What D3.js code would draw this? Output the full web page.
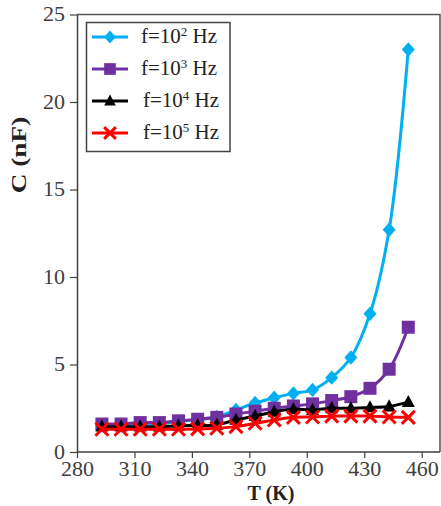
<!DOCTYPE html>
<html><head><meta charset="utf-8">
<script src="https://cdn.jsdelivr.net/npm/d3@7"></script>
<style>body{margin:0;background:#fff}svg{display:block}</style>
</head><body>
<svg id="c" width="441" height="506"></svg>
<script>
const temps = [293,303,313,323,333,343,353,363,373,383,393,403,413,423,433,443,453];
const c100 = [1.5,1.5,1.6,1.6,1.75,1.85,2.0,2.4,2.8,3.1,3.35,3.55,4.25,5.4,7.9,12.7,23.0];
const c1k  = [1.6,1.6,1.68,1.68,1.78,1.87,1.98,2.17,2.33,2.5,2.63,2.75,2.94,3.16,3.64,4.73,7.13];
const c10k = [1.45,1.45,1.45,1.45,1.5,1.52,1.55,1.83,2.05,2.3,2.45,2.4,2.5,2.5,2.55,2.6,2.85];
const c100k= [1.3,1.3,1.3,1.3,1.3,1.32,1.36,1.45,1.64,1.83,1.98,2.0,2.05,2.05,2.05,2.0,1.98];
const seriesNames = ["f=10","f=10","f=10","f=10"];
const seriesExp = ["2","3","4","5"];
const xTicks = [280,310,340,370,400,430,460];
const yTicks = [0,5,10,15,20,25];

const series = [
  {vals:c100, color:"#00B0F0", shape:"diamond", name:seriesNames[0], exp:seriesExp[0]},
  {vals:c1k, color:"#7030A0", shape:"square", name:seriesNames[1], exp:seriesExp[1]},
  {vals:c10k, color:"#000000", shape:"triangle", name:seriesNames[2], exp:seriesExp[2]},
  {vals:c100k, color:"#FF0000", shape:"x", name:seriesNames[3], exp:seriesExp[3]}
];

const svg = d3.select("#c");
const L=77, T=14.5, B=452, R=440;
const x = d3.scaleLinear().domain([280,460]).range([L,421.7]);
const y = d3.scaleLinear().domain([0,25]).range([B,T]);
const axisCol="#404040", textCol="#404040";
const font="'Liberation Serif','Times New Roman',serif";

// frame
svg.append("path").attr("d",`M${L},${T}H${R}V${B}`).attr("fill","none").attr("stroke","#555").attr("stroke-width",1.5);

const xa = svg.append("g").attr("transform",`translate(0,${B})`)
  .call(d3.axisBottom(x).tickValues(xTicks).tickSize(6).tickSizeOuter(0).tickPadding(4));
xa.select(".domain").remove();
xa.append("line").attr("x1",L).attr("x2",R).attr("stroke",axisCol).attr("stroke-width",1.5);
const ya = svg.append("g").attr("transform",`translate(${L},0)`)
  .call(d3.axisLeft(y).tickValues(yTicks).tickSize(7).tickSizeOuter(0).tickPadding(4));
[xa,ya].forEach(a=>{
  a.selectAll(".domain").attr("stroke",axisCol).attr("stroke-width",1.5);
  a.selectAll(".tick line").attr("stroke",axisCol).attr("stroke-width",1.2);
  a.selectAll("text").attr("fill",textCol).style("font-family",font).style("font-size","20px");
});
xa.selectAll(".tick text").attr("transform","scale(1.1,1)");
ya.selectAll(".tick text").attr("transform","translate(-1,0) scale(1.1,1)").attr("x",-10);

svg.append("text").attr("x",271).attr("y",500).attr("text-anchor","middle")
  .style("font-family",font).style("font-size","20px").style("font-weight","bold").attr("fill","#222").text("T (K)");
svg.append("text").attr("transform","translate(26,155) rotate(-90) scale(1.3,1)").attr("text-anchor","middle")
  .style("font-family",font).style("font-size","21px").style("font-weight","bold").attr("fill","#222").text("C (nF)");

function marker(g, shape, color, s){
  if(shape==="diamond"){
    g.append("path").attr("d",`M0,${-s*1.1}L${s},0L0,${s*1.1}L${-s},0Z`).attr("fill",color);
  } else if(shape==="square"){
    g.append("rect").attr("x",-s).attr("y",-s).attr("width",2*s).attr("height",2*s).attr("fill",color);
  } else if(shape==="triangle"){
    g.append("path").attr("d",`M0,${-s*1.1}L${s},${s*0.75}L${-s},${s*0.75}Z`).attr("fill",color);
  } else {
    g.append("path").attr("d",`M${-s},${-s}L${s},${s}M${-s},${s}L${s},${-s}`).attr("stroke",color).attr("stroke-width",3);
  }
}
const sizes={diamond:6.5,square:6.5,triangle:6.5,x:6.5};
const line = d3.line().x((d,i)=>x(temps[i])).y(d=>y(d)).curve(d3.curveCatmullRom.alpha(0.5));
series.forEach(s=>{
  svg.append("path").attr("d",line(s.vals)).attr("fill","none").attr("stroke",s.color).attr("stroke-width",3);
  s.vals.forEach((v,i)=>{
    const g=svg.append("g").attr("transform",`translate(${x(temps[i])},${y(v)})`);
    marker(g,s.shape,s.color,sizes[s.shape]);
  });
});

// legend
const lg = svg.append("g");
lg.append("rect").attr("x",86.5).attr("y",22.5).attr("width",143.5).attr("height",129)
  .attr("fill","#fff").attr("stroke","#444").attr("stroke-width",1.5);
series.forEach((s,i)=>{
  const cy = 37 + i*32;
  lg.append("line").attr("x1",92).attr("x2",128).attr("y1",cy).attr("y2",cy).attr("stroke",s.color).attr("stroke-width",3);
  const g=lg.append("g").attr("transform",`translate(110,${cy})`);
  marker(g,s.shape,s.color,sizes[s.shape]*0.9);
  const t=lg.append("text").attr("x",i<2?141:143).attr("y",cy+6).style("font-family",font).style("font-size","21px").attr("fill","#222");
  t.append("tspan").text(s.name);
  t.append("tspan").attr("dy",-7).style("font-size","13px").text(s.exp);
  t.append("tspan").attr("dy",7).text(" Hz");
});
</script>
</body></html>
